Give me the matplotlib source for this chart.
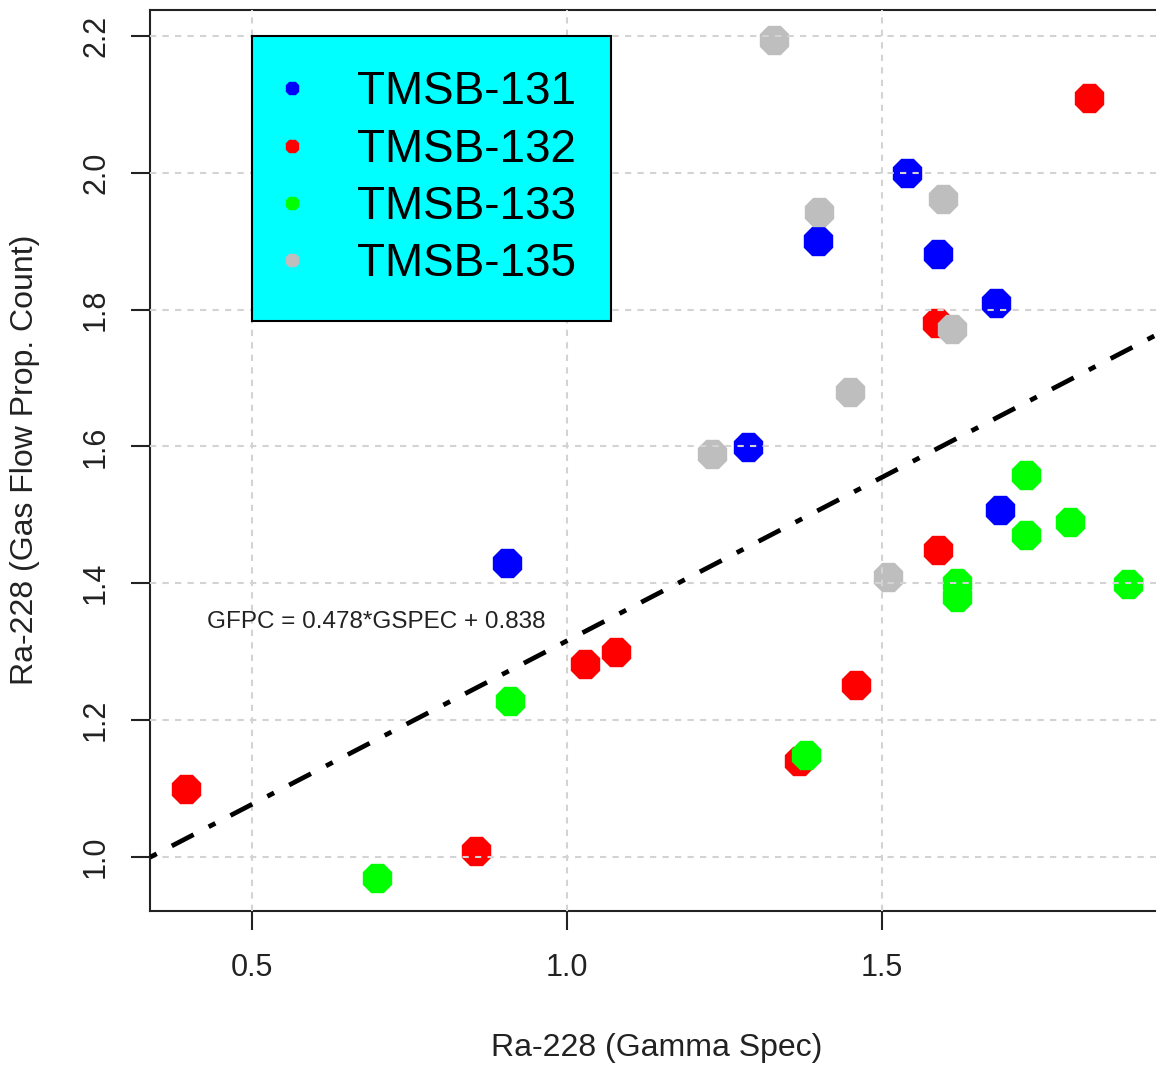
import matplotlib
matplotlib.use("Agg")
import matplotlib.pyplot as plt
from matplotlib.lines import Line2D
import numpy as np

plt.rcParams['font.family'] = ['Liberation Sans', 'DejaVu Sans']

# data (x = gamma spec, y = gas flow prop. count)
tmsb131_x = [1.540, 1.398, 1.589, 1.681, 1.287, 1.687, 0.905]
tmsb131_y = [2.000, 1.900, 1.881, 1.810, 1.599, 1.507, 1.430]

tmsb132_x = [1.829, 1.587, 1.589, 1.459, 1.029, 1.078, 1.368, 0.395, 0.856]
tmsb132_y = [2.109, 1.781, 1.449, 1.251, 1.282, 1.300, 1.140, 1.099, 1.009]

tmsb133_x = [1.729, 1.729, 1.798, 1.890, 1.619, 1.619, 0.910, 1.379, 0.698]
tmsb133_y = [1.558, 1.471, 1.490, 1.399, 1.401, 1.380, 1.228, 1.149, 0.969]

tmsb135_x = [1.329, 1.400, 1.597, 1.611, 1.449, 1.230, 1.510]
tmsb135_y = [2.194, 1.943, 1.962, 1.772, 1.680, 1.589, 1.409]

series_names = ['TMSB-131', 'TMSB-132', 'TMSB-133', 'TMSB-135']
series_colors = ['#0000ff', '#ff0000', '#00ff00', '#bebebe']

slope = 0.478
intercept = 0.838

xticks = [0.5, 1.0, 1.5]
yticks = [1.0, 1.2, 1.4, 1.6, 1.8, 2.0, 2.2]

W, H = 1156, 1065
fig = plt.figure(figsize=(W / 100, H / 100), dpi=100)
ax = fig.add_axes([150 / W, (H - 911) / H, (1180 - 150) / W, (911 - 10) / H])

xlim = (0.338, 1.973)
ylim = (0.921, 2.238)
ax.set_xlim(*xlim)
ax.set_ylim(*ylim)

all_x = [tmsb131_x, tmsb132_x, tmsb133_x, tmsb135_x]
all_y = [tmsb131_y, tmsb132_y, tmsb133_y, tmsb135_y]
for xs, ys, c in zip(all_x, all_y, series_colors):
    ax.plot(xs, ys, linestyle='none', marker='8', markersize=22,
            markerfacecolor=c, markeredgecolor=c, zorder=2)

# grid on top of the points, like R's grid() after points()
for xv in xticks:
    ax.axvline(xv, color='#d3d3d3', lw=1.5, linestyle=(0, (3, 3)), zorder=3)
for yv in yticks:
    ax.axhline(yv, color='#d3d3d3', lw=1.5, linestyle=(0, (3, 3)), zorder=3)

# fitted line
lx = np.array(xlim)
ax.plot(lx, slope * lx + intercept, color='black', lw=3.4,
        linestyle=(0, (1.6, 3.6, 5.2, 3.6)), zorder=4)

ax.text(0.697, 1.344, 'GFPC = 0.478*GSPEC + 0.838', fontsize=17.5,
        color='#222222', ha='center', va='center', zorder=5)

ax.set_xticks(xticks)
ax.set_xticklabels(['0.5', '1.0', '1.5'])
ax.set_yticks(yticks)
ax.set_yticklabels(['1.0', '1.2', '1.4', '1.6', '1.8', '2.0', '2.2'],
                   rotation=90, va='center')
ax.tick_params(axis='both', direction='out', length=14, width=1.5,
               colors='#222222', labelsize=22)
ax.tick_params(axis='x', pad=16)
ax.tick_params(axis='y', pad=14)

for s in ax.spines.values():
    s.set_linewidth(1.5)
    s.set_color('#222222')

fig.text(657 / W, 1 - 1048 / H, 'Ra-228 (Gamma Spec)', fontsize=23,
         color='#222222', ha='center', va='center')
fig.text(25 / W, 1 - 460 / H, 'Ra-228 (Gas Flow Prop. Count)', fontsize=23,
         color='#222222', ha='center', va='center', rotation=90)

handles = [Line2D([], [], linestyle='none', marker='8', markersize=10,
                  markerfacecolor=c, markeredgecolor=c) for c in series_colors]
leg = ax.legend(handles, series_names, loc='upper left',
                bbox_to_anchor=((252 - 150) / (1180 - 150), (911 - 36) / (911 - 10)),
                borderaxespad=0, fontsize=33, frameon=True, fancybox=False,
                borderpad=0.75, handlelength=0.25, handletextpad=1.3,
                labelspacing=0.29)
leg.get_frame().set_facecolor('#00ffff')
leg.get_frame().set_edgecolor('black')
leg.get_frame().set_linewidth(1.5)
leg.get_frame().set_alpha(1)
leg.set_zorder(6)

fig.savefig('out.png', dpi=100)
